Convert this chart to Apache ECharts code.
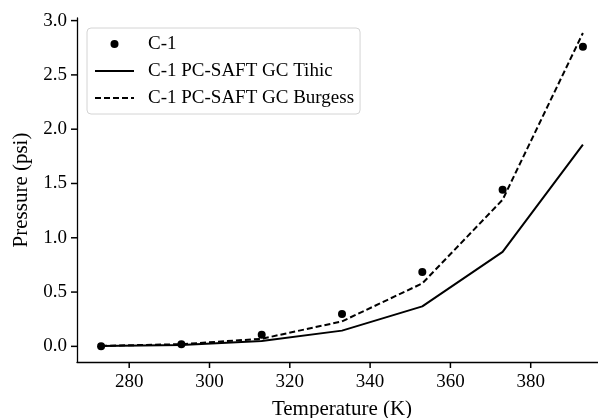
<!DOCTYPE html>
<html>
<head>
<meta charset="utf-8">
<script src="https://cdn.jsdelivr.net/npm/echarts@6/dist/echarts.min.js"></script>
<style>html,body{margin:0;padding:0;background:#fff;}#c{width:598px;height:418px;}</style>
</head>
<body>
<div id="c"></div>
<script>
const temperatures = [273, 293, 313, 333, 353, 373, 393];
const expC1 = [0.0, 0.02, 0.108, 0.298, 0.685, 1.443, 2.76];
const tihic = [0.003, 0.012, 0.05, 0.145, 0.368, 0.87, 1.857];
const burgess = [0.005, 0.02, 0.07, 0.23, 0.58, 1.35, 2.886];
const xTicks = [280, 300, 320, 340, 360, 380];
const yTicks = [0.0, 0.5, 1.0, 1.5, 2.0, 2.5, 3.0];

const FONT = 'Liberation Serif';
const pair = (xs, ys) => xs.map((x, i) => [x, ys[i]]);

const X_MIN = 267, X_MAX = 399, Y_MIN = -0.144, Y_MAX = 3.024;
const TICK_LEN = 6, TICK_W = 1.5;

const chart = echarts.init(document.getElementById('c'), null, {renderer: 'canvas'});
chart.setOption({
  animation: false,
  backgroundColor: '#fff',
  grid: {left: 77, top: 18, width: 530, height: 344, containLabel: false, outerBoundsMode: 'none'},
  xAxis: {
    type: 'value', min: X_MIN, max: X_MAX,
    name: 'Temperature (K)', nameLocation: 'middle', nameGap: 37,
    nameTextStyle: {fontFamily: FONT, fontSize: 21, color: '#000'},
    axisLine: {show: true, onZero: false, lineStyle: {color: '#000', width: 1.3}},
    axisTick: {show: false},
    axisLabel: {customValues: xTicks, fontFamily: FONT, fontSize: 19, color: '#000', margin: 11},
    splitLine: {show: false}
  },
  yAxis: {
    type: 'value', min: Y_MIN, max: Y_MAX,
    name: 'Pressure (psi)', nameLocation: 'middle', nameGap: 36, nameRotate: 90,
    nameTextStyle: {fontFamily: FONT, fontSize: 21, color: '#000'},
    axisLine: {show: true, onZero: false, lineStyle: {color: '#000', width: 1.3}},
    axisTick: {show: false},
    axisLabel: {customValues: yTicks, fontFamily: FONT, fontSize: 19, color: '#000', margin: 10,
      formatter: v => v.toFixed(1)},
    splitLine: {show: false}
  },
  legend: {
    orient: 'vertical', left: 87, top: 28,
    padding: [6, 6, 6, 7],
    itemWidth: 39, itemHeight: 8, itemGap: 7,
    borderColor: '#d4d4d4', borderWidth: 1, borderRadius: 4,
    backgroundColor: 'rgba(255,255,255,0.8)',
    textStyle: {fontFamily: FONT, fontSize: 19, color: '#000', lineHeight: 20, padding: [0, 0, 0, 9]},
    data: [
      {name: 'C-1'},
      {name: 'C-1 PC-SAFT GC Tihic', itemStyle: {opacity: 0}},
      {name: 'C-1 PC-SAFT GC Burgess', itemStyle: {opacity: 0}}
    ]
  },
  series: [
    {
      name: 'C-1', type: 'scatter', data: pair(temperatures, expC1),
      symbol: 'circle', symbolSize: 8, itemStyle: {color: '#000', opacity: 1}, z: 5
    },
    {
      name: 'C-1 PC-SAFT GC Tihic', type: 'line', data: pair(temperatures, tihic),
      symbol: 'none', showSymbol: false,
      lineStyle: {color: '#000', width: 2, type: 'solid'}, itemStyle: {color: '#000'}
    },
    {
      name: 'C-1 PC-SAFT GC Burgess', type: 'line', data: pair(temperatures, burgess),
      symbol: 'none', showSymbol: false,
      lineStyle: {color: '#000', width: 2, type: [6, 3]}, itemStyle: {color: '#000'}
    }
  ]
});

// tick marks, positioned through the chart's own axis scales
const tickEls = [];
xTicks.forEach(v => {
  const p = chart.convertToPixel({gridIndex: 0}, [v, Y_MIN]);
  tickEls.push({type: 'rect', silent: true, z: 100,
    shape: {x: p[0] - TICK_W / 2, y: p[1], width: TICK_W, height: TICK_LEN},
    style: {fill: '#000'}});
});
yTicks.forEach(v => {
  const p = chart.convertToPixel({gridIndex: 0}, [X_MIN, v]);
  tickEls.push({type: 'rect', silent: true, z: 100,
    shape: {x: p[0] - TICK_LEN, y: p[1] - TICK_W / 2, width: TICK_LEN, height: TICK_W},
    style: {fill: '#000'}});
});
chart.setOption({graphic: {elements: tickEls}});
</script>
</body>
</html>
